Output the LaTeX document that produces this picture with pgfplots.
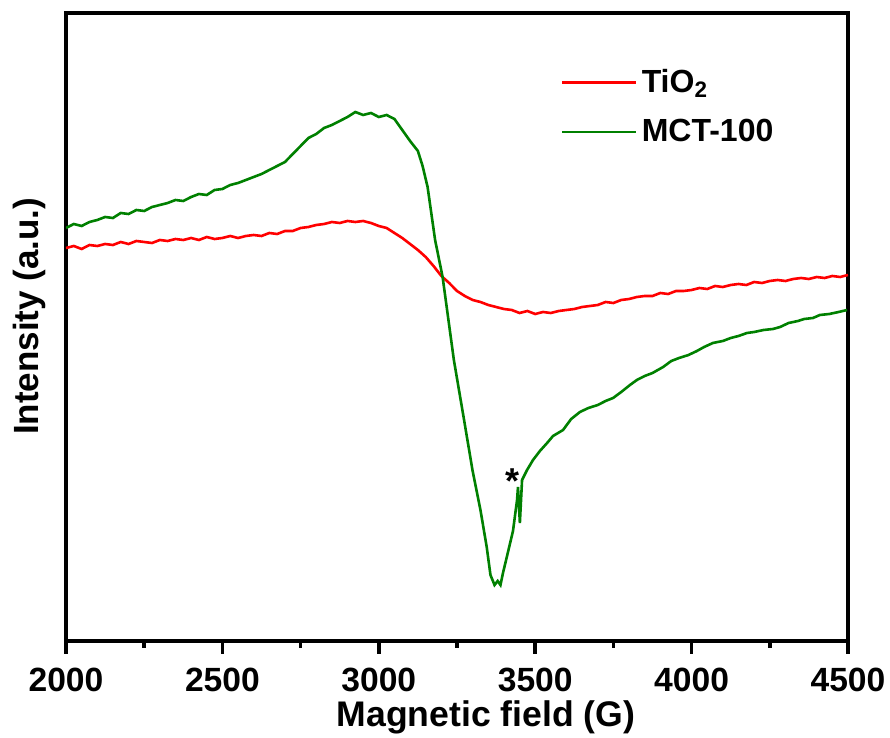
\documentclass[border=0pt]{standalone}
\usepackage{pgfplots}
\pgfplotsset{compat=1.18}
\usepackage{fontspec}
\setmainfont{Liberation Sans}
\definecolor{cred}{RGB}{255,0,0}
\definecolor{cgreen}{RGB}{0,128,0}
\pgfplotstableread{
x y
2000 393
2025 395
2050 392
2075 396
2100 395
2125 397
2150 396
2175 399
2200 397
2225 400
2250 399
2275 398
2300 401
2325 400
2350 402
2375 401
2400 403
2425 401
2450 404
2475 402
2500 403
2525 405
2550 403
2575 405
2600 406
2625 405
2650 408
2675 407
2700 410
2725 410
2750 413
2775 414
2800 416
2825 417
2850 419
2875 418
2900 420
2925 419
2950 420
2975 418
3000 415
3025 413
3050 408
3075 403
3100 397
3125 391
3150 384
3175 375
3200 365
3225 358
3250 350
3275 345
3300 341
3325 339
3350 336
3375 334
3400 332
3425 331
3450 328
3475 330
3500 327
3525 329
3550 328
3575 330
3600 331
3625 332
3650 334
3675 335
3700 336
3725 339
3750 338
3775 341
3800 342
3825 344
3850 345
3875 345
3900 348
3925 347
3950 350
3975 350
4000 351
4025 353
4050 352
4075 355
4100 354
4125 356
4150 357
4175 356
4200 359
4225 358
4250 360
4275 361
4300 360
4325 362
4350 363
4375 362
4400 364
4425 363
4450 365
4475 364
4500 366
}\tiodata
\pgfplotstableread{
x y
2000 413
2025 417
2050 415
2075 419
2100 421
2125 424
2150 423
2175 428
2200 427
2225 431
2250 430
2275 434
2300 436
2325 438
2350 441
2375 440
2400 444
2425 447
2450 446
2475 451
2500 452
2525 456
2550 458
2575 461
2600 464
2625 467
2650 471
2675 475
2700 479
2725 487
2750 495
2775 503
2800 507
2825 513
2850 516
2875 520
2900 524
2925 529
2950 526
2975 528
3000 524
3025 526
3050 522
3075 511
3100 500
3125 490
3140 475
3156 454
3180 401
3204 364
3240 281
3271 224
3300 170
3325 131
3345 94
3357 66
3370 56
3380 60
3389 56
3397 68
3410 85
3429 110
3442 141
3445 154
3451 118
3458 161
3474 171
3493 181
3515 190
3538 198
3557 205
3589 211
3615 222
3643 229
3670 233
3700 236
3725 240
3749 243
3775 249
3803 256
3825 261
3850 265
3875 268
3909 274
3935 280
3960 283
3990 286
4017 290
4040 294
4068 298
4100 300
4125 303
4150 305
4177 308
4200 309
4230 311
4260 312
4283 314
4310 318
4340 320
4360 322
4388 323
4410 326
4440 327
4470 329
4497 331
}\mctdata
\begin{document}
\begin{tikzpicture}
\begin{axis}[
  name=ax,
  scale only axis,
  width=391pt, height=314pt,
  xmin=2000, xmax=4500, ymin=0, ymax=628,
  axis line style={line width=2pt},
  xtick={2000,2500,3000,3500,4000,4500},
  xticklabels={2000,2500,3000,3500,4000,4500},
  minor x tick num=1,
  ytick=\empty,
  xtick pos=bottom,
  tick align=outside,
  major tick length=6.5pt,
  minor tick length=3.5pt,
  every tick/.style={line width=1.8pt, black},
  tick label style={font=\fontsize{16.8}{19}\selectfont\bfseries},
  xticklabel style={yshift=-3.5pt},
  xlabel={Magnetic field (G)},
  ylabel={Intensity (a.u.)},
  xlabel style={font=\fontsize{17.8}{20}\selectfont\bfseries, xshift=14.5pt, yshift=2.5pt},
  ylabel style={font=\fontsize{17.5}{20}\selectfont\bfseries, at={(ticklabel cs:0.517)}},
  legend style={draw=none, fill=none, at={(0.625,0.924)}, anchor=north west,
    font=\fontsize{16}{19}\selectfont\bfseries, row sep=8pt},
  legend cell align=left,
  legend image code/.code={\draw[#1, line width=1.3pt] (0pt,0pt) -- (37pt,0pt);},
]
\addplot[cred, line width=1.3pt] table[x=x,y=y] {\tiodata};
\addlegendentry{TiO\textsubscript{2}}
\addplot[cgreen, line width=1.3pt] table[x=x,y=y] {\mctdata};
\addlegendentry{MCT-100}
\node[font=\fontsize{18}{20}\selectfont\bfseries] at (axis cs:3428,160) {*};
\end{axis}
\pgfresetboundingbox
\path[use as bounding box] (ax.south west) ++(-33pt,-48.5pt) rectangle ++(445pt,369pt);
\end{tikzpicture}
\end{document}
